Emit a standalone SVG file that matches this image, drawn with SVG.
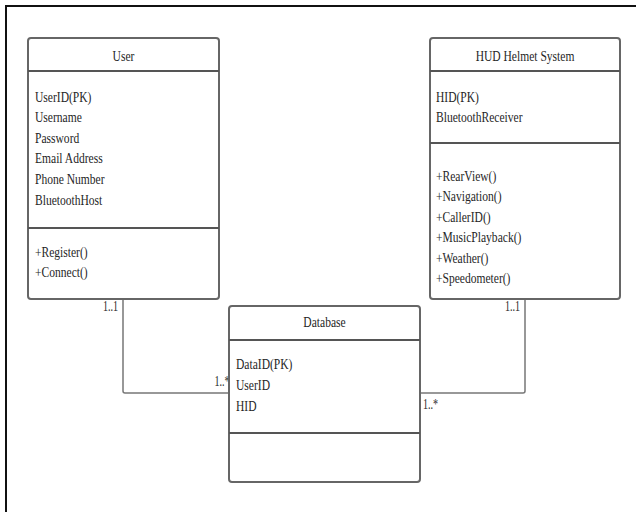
<svg xmlns="http://www.w3.org/2000/svg" width="636" height="512" viewBox="0 0 636 512">
<style>
.box{fill:#fff;stroke:#666;stroke-width:2}
.div{stroke:#555;stroke-width:2}
.conn{fill:none;stroke:#777;stroke-width:1.5}
text{font-family:"Liberation Serif","Times New Roman",serif;fill:#262626;font-size:15px}
.lbl{font-size:14px}
</style>
<rect width="636" height="512" fill="#fff"/>
<path d="M6 512 V6 H636" fill="none" stroke="#111" stroke-width="2"/>
<g id="connectors">
<path class="conn" d="M123 299 V391 Q123 393 125 393 H229"/>
<path class="conn" d="M525 299 V391 Q525 393 523 393 H420"/>
<text class="lbl" transform="translate(103,311) scale(0.72 1)">1..1</text>
<text class="lbl" transform="translate(214.5,386) scale(0.72 1)">1..*</text>
<text class="lbl" transform="translate(505,311) scale(0.72 1)">1..1</text>
<text class="lbl" transform="translate(423,409) scale(0.72 1)">1..*</text>
</g>
<g id="user">
<rect class="box" x="28" y="38" width="191" height="261" rx="3"/>
<line class="div" x1="28" y1="71" x2="219" y2="71"/>
<line class="div" x1="28" y1="228" x2="219" y2="228"/>
<text text-anchor="middle" transform="translate(123.5,60.5) scale(0.77 1)">User</text>
<text transform="translate(35,101.6) scale(0.77 1)">UserID(PK)</text>
<text transform="translate(35,122.2) scale(0.77 1)">Username</text>
<text transform="translate(35,142.8) scale(0.77 1)">Password</text>
<text transform="translate(35,163.4) scale(0.77 1)">Email Address</text>
<text transform="translate(35,184) scale(0.77 1)">Phone Number</text>
<text transform="translate(35,204.6) scale(0.77 1)">BluetoothHost</text>
<text transform="translate(35,256.5) scale(0.77 1)">+Register()</text>
<text transform="translate(35,277) scale(0.77 1)">+Connect()</text>
</g>
<g id="hud">
<rect class="box" x="430" y="38" width="190" height="261" rx="3"/>
<line class="div" x1="430" y1="71" x2="620" y2="71"/>
<line class="div" x1="430" y1="143" x2="620" y2="143"/>
<text text-anchor="middle" transform="translate(525,60.5) scale(0.77 1)">HUD Helmet System</text>
<text transform="translate(436,101.6) scale(0.77 1)">HID(PK)</text>
<text transform="translate(436,122.2) scale(0.77 1)">BluetoothReceiver</text>
<text transform="translate(436,180.5) scale(0.77 1)">+RearView()</text>
<text transform="translate(436,201) scale(0.77 1)">+Navigation()</text>
<text transform="translate(436,221.5) scale(0.77 1)">+CallerID()</text>
<text transform="translate(436,242) scale(0.77 1)">+MusicPlayback()</text>
<text transform="translate(436,262.5) scale(0.77 1)">+Weather()</text>
<text transform="translate(436,283) scale(0.77 1)">+Speedometer()</text>
</g>
<g id="database">
<rect class="box" x="229" y="306" width="191" height="176" rx="3"/>
<line class="div" x1="229" y1="340" x2="420" y2="340"/>
<line class="div" x1="229" y1="433" x2="420" y2="433"/>
<text text-anchor="middle" transform="translate(324.5,326.7) scale(0.77 1)">Database</text>
<text transform="translate(236,369) scale(0.77 1)">DataID(PK)</text>
<text transform="translate(236,390) scale(0.77 1)">UserID</text>
<text transform="translate(236,410.5) scale(0.77 1)">HID</text>
</g>
</svg>
